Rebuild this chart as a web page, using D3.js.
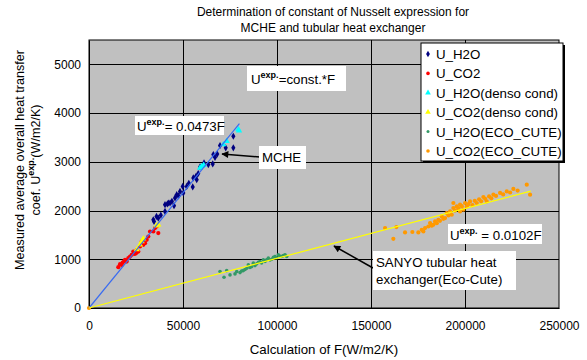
<!DOCTYPE html>
<html>
<head>
<meta charset="utf-8">
<script src="https://cdn.jsdelivr.net/npm/d3@7/dist/d3.min.js"></script>
<style>
  html, body { margin: 0; padding: 0; background: #fff; }
  svg { display: block; font-family: "Liberation Sans", Arial, sans-serif; }
</style>
</head>
<body>
<svg id="chart" width="587" height="360"></svg>
<script>
// ---- data: [F (W/m2/K), U exp. (W/m2/K)] ----
const uH2O = [
  [34210,1811],[34580,1776],[36870,1846],[35900,1880],[38200,1905],[40430,1982],[40430,2120],
  [41660,2134],[42190,2155],[43090,2155],[44100,2190],[45220,2099],[45750,2258],[46660,2325],
  [47600,2300],[48410,2393],[49850,2496],[50170,2361],[51980,2496],[53100,2560],[55170,2484],
  [55490,2669],[56920,2702],[57300,2634],[58100,2760],[59050,2896],[61180,2978],[63470,2943],
  [65810,2957],[66130,3149],[67030,3093],[68200,3160],[69690,3334],[72720,3287],[76770,3525],
  [76770,3287]
];
const uCO2 = [
  [15590,838],[16500,900],[17390,885],[17920,932],[18700,960],[19150,988],[20050,953],
  [20910,1023],[21810,1056],[22710,1091],[23570,1159],[24300,1110],[25000,1126],[25380,1194],
  [26230,1159],[27130,1262],[28030,1364],[28890,1297],[29800,1330],[30700,1399],[31550,1467],
  [32450,1570],[34210,1570],[35110,1640],[36020,1673],[36870,1537]
];
const uH2ODenso = [
  [59050,2875],[59960,2908],[61000,2930],[71440,3355],[73250,3423],[79430,3663],[79800,3640]
];
const uCO2Denso = [
  [25400,1200],[27130,1297],[28030,1364],[28890,1420],[35800,1690],[36870,1708]
];
const uH2OEco = [
  [69690,747],[71820,632],[73250,768],[75010,679],[77670,700],[78580,747],[80330,726],
  [81200,760],[82090,768],[83000,790],[83900,817],[84750,885],[85600,830],[86560,850],
  [87410,920],[88300,870],[89220,906],[90100,940],[90970,953],[91800,925],[92730,988],
  [93630,953],[94500,990],[95390,1023],[96300,985],[97200,1002],[98100,1040],[98950,1056],
  [99800,1030],[100710,1091],[101600,1060],[102520,1056],[103400,1075],[104270,1091],[105180,1056]
];
const uCO2Eco = [
  [0,0],
  [157470,1640],[161890,1420],[163500,1660],[168110,1550],[172000,1560],[175190,1550],[177000,1605],
  [177850,1570],[178750,1640],[180510,1673],[181410,1743],[182300,1690],[183170,1708],[184070,1776],
  [185000,1740],[185830,1811],[186700,1790],[187640,1879],[188500,1830],[189390,1846],[190300,1949],
  [191200,1900],[192050,1982],[192960,1914],[193810,2052],[193810,2155],[194700,2000],[195620,2085],
  [196500,2040],[197370,2120],[197370,1982],[198300,2090],[199130,2017],[200030,2155],[200940,2085],
  [201800,2130],[202690,2188],[204000,2110],[205200,2200],[206260,2155],[207500,2230],[208600,2190],
  [209770,2278],[210700,2240],[211580,2188],[212800,2290],[214000,2250],[215090,2326],[216500,2300],
  [218650,2361],[220300,2330],[222220,2393],[224000,2370],[225730,2443],[228000,2410],[232860,2531],
  [234610,2326]
];

// fitted constants  U = c * F
const fitMCHE = { c: 0.0473, fMax: 80000 };
const fitSanyo = { c: 0.0102, fMax: 235000 };

const xTicks = [0, 50000, 100000, 150000, 200000, 250000];
const yTicks = [0, 1000, 2000, 3000, 4000, 5000];

const legendLabels = ["U_H2O", "U_CO2", "U_H2O(denso cond)", "U_CO2(denso cond)", "U_H2O(ECO_CUTE)", "U_CO2(ECO_CUTE)"];

// ---- layout ----
const svg = d3.select("#chart");
const plot = { left: 89, right: 559, top: 40, bottom: 308 };
const x = d3.scaleLinear().domain([0, 250000]).range([plot.left, plot.right]);
const y = d3.scaleLinear().domain([0, 5500]).range([plot.bottom, plot.top]);
const FS = 13.3;     // legend / annotations
const TICK_FS = 12;  // tick labels, chart title

svg.append("rect").attr("width", 587).attr("height", 360).attr("fill", "#fff");

// plot area
svg.append("rect")
  .attr("x", plot.left).attr("y", plot.top)
  .attr("width", plot.right - plot.left).attr("height", plot.bottom - plot.top)
  .attr("fill", "#c0c0c0").attr("stroke", "#000").attr("stroke-width", 1);

// gridlines
svg.append("g").selectAll("line").data(yTicks.filter(d => d > 0)).join("line")
  .attr("x1", plot.left).attr("x2", plot.right)
  .attr("y1", d => Math.round(y(d)) + 0.5).attr("y2", d => Math.round(y(d)) + 0.5)
  .attr("stroke", "#000");
svg.append("g").selectAll("line").data(xTicks.filter(d => d > 0 && d < 250000)).join("line")
  .attr("y1", plot.top).attr("y2", plot.bottom)
  .attr("x1", d => Math.round(x(d)) + 0.5).attr("x2", d => Math.round(x(d)) + 0.5)
  .attr("stroke", "#000");

// axes
const xAxis = svg.append("g").attr("transform", `translate(0,${plot.bottom})`)
  .call(d3.axisBottom(x).tickValues(xTicks).tickSize(0).tickPadding(13).tickFormat(d3.format("d")));
const yAxis = svg.append("g").attr("transform", `translate(${plot.left},0)`)
  .call(d3.axisLeft(y).tickValues(yTicks).tickSize(0).tickPadding(8).tickFormat(d3.format("d")));
[xAxis, yAxis].forEach(a => {
  a.select(".domain").attr("stroke", "#000");
  a.selectAll("text").attr("font-size", TICK_FS).attr("fill", "#000").attr("font-family", "Liberation Sans, Arial, sans-serif");
});

// markers
const diamond = d3.symbol().type(d3.symbolDiamond).size(15);
const triangle = d3.symbol().type(d3.symbolTriangle).size(17);

function dots(data, r, color) {
  svg.append("g").selectAll("circle").data(data).join("circle")
    .attr("cx", d => x(d[0])).attr("cy", d => y(d[1])).attr("r", r).attr("fill", color);
}
function syms(data, gen, color) {
  svg.append("g").selectAll("path").data(data).join("path")
    .attr("d", gen).attr("transform", d => `translate(${x(d[0])},${y(d[1])})`).attr("fill", color);
}

syms(uH2O, diamond, "#000080");
dots(uCO2, 2.1, "#ff0000");
syms(uH2ODenso, triangle, "#00ffff");
syms(uCO2Denso, triangle, "#ffff00");
dots(uH2OEco, 1.8, "#339966");
dots(uCO2Eco, 2.1, "#ff9900");

// fit lines
function fitLine(fit, color) {
  svg.append("line")
    .attr("x1", x(0)).attr("y1", y(0))
    .attr("x2", x(fit.fMax)).attr("y2", y(fit.c * fit.fMax))
    .attr("stroke", color).attr("stroke-width", 1.2);
}
fitLine(fitMCHE, "#3a6cf0");
fitLine(fitSanyo, "#ffff00");

// annotations
const defs = svg.append("defs");
defs.append("marker").attr("id", "arrow").attr("viewBox", "0 0 10 10")
  .attr("refX", 9).attr("refY", 5).attr("markerWidth", 9).attr("markerHeight", 7)
  .attr("orient", "auto").attr("markerUnits", "userSpaceOnUse")
  .append("path").attr("d", "M0,0L10,5L0,10Z").attr("fill", "#000");

function labelBox(bx, by, bw, bh) {
  svg.append("rect").attr("x", bx).attr("y", by).attr("width", bw).attr("height", bh).attr("fill", "#fff");
}
function uLabel(tx, ty, rest) {
  const t = svg.append("text").attr("x", tx).attr("y", ty).attr("font-size", FS).attr("fill", "#000");
  t.append("tspan").text("U");
  t.append("tspan").attr("dy", -6).attr("font-size", 9).attr("font-weight", "bold").text("exp.");
  t.append("tspan").attr("dy", 6).text(rest);
}

labelBox(247, 66, 99, 25);
uLabel(251, 84, "=const.*F");

labelBox(135, 116, 89, 19);
uLabel(137, 131, "= 0.0473F");

labelBox(448, 224, 94, 20);
uLabel(450, 240, " = 0.0102F");

svg.append("line").attr("x1", 260).attr("y1", 157).attr("x2", 222).attr("y2", 154)
  .attr("stroke", "#000").attr("stroke-width", 1.5).attr("marker-end", "url(#arrow)");
labelBox(259, 146, 47, 23);
svg.append("text").attr("x", 262).attr("y", 162).attr("font-size", FS).text("MCHE");

svg.append("line").attr("x1", 373).attr("y1", 268).attr("x2", 334).attr("y2", 246)
  .attr("stroke", "#000").attr("stroke-width", 1.5).attr("marker-end", "url(#arrow)");
labelBox(373, 251, 143, 39);
svg.append("text").attr("x", 376).attr("y", 267).attr("font-size", FS).text("SANYO tubular heat");
svg.append("text").attr("x", 376).attr("y", 284).attr("font-size", FS).text("exchanger(Eco-Cute)");

// legend
const lg = { x: 421, y: 43, w: 142, h: 118 };
svg.append("rect").attr("x", lg.x + 2).attr("y", lg.y + 2).attr("width", lg.w).attr("height", lg.h).attr("fill", "#000");
svg.append("rect").attr("x", lg.x).attr("y", lg.y).attr("width", lg.w).attr("height", lg.h)
  .attr("fill", "#fff").attr("stroke", "#000");
const legendMarks = [
  { gen: d3.symbol().type(d3.symbolDiamond).size(12), color: "#000080" },
  { r: 1.8, color: "#ff0000" },
  { gen: d3.symbol().type(d3.symbolTriangle).size(14), color: "#00ffff" },
  { gen: d3.symbol().type(d3.symbolTriangle).size(14), color: "#ffff00" },
  { r: 1.5, color: "#339966" },
  { r: 1.8, color: "#ff9900" }
];
const li = svg.append("g").selectAll("g").data(legendLabels).join("g")
  .attr("transform", (d, i) => `translate(${lg.x + 7},${lg.y + 11 + i * 19.4})`);
li.each(function (d, i) {
  const g = d3.select(this);
  const m = legendMarks[i];
  if (m.gen) g.append("path").attr("d", m.gen).attr("fill", m.color);
  else g.append("circle").attr("r", m.r).attr("fill", m.color);
  g.append("text").attr("x", 8).attr("y", 5).attr("font-size", FS).text(d);
});

// titles
const title = svg.append("text").attr("text-anchor", "middle").attr("font-size", TICK_FS);
title.append("tspan").attr("x", 333).attr("y", 16).text("Determination of constant of Nusselt expression for");
title.append("tspan").attr("x", 333).attr("y", 32).text("MCHE and tubular heat exchanger");

svg.append("text").attr("x", 324).attr("y", 354).attr("text-anchor", "middle").attr("font-size", FS)
  .text("Calculation of F(W/m2/K)");

const yt = svg.append("text").attr("transform", "translate(0,160) rotate(-90)")
  .attr("text-anchor", "middle").attr("font-size", 12.6);
yt.append("tspan").attr("x", 0).attr("y", 24).text("Measured average overall heat transfer");
const l2 = yt.append("tspan").attr("x", 0).attr("y", 40);
l2.append("tspan").text("coef. U");
l2.append("tspan").attr("dy", -6).attr("font-size", 9).attr("font-weight", "bold").text("exp.");
l2.append("tspan").attr("dy", 6).text("(W/m2/K)");
</script>
</body>
</html>
